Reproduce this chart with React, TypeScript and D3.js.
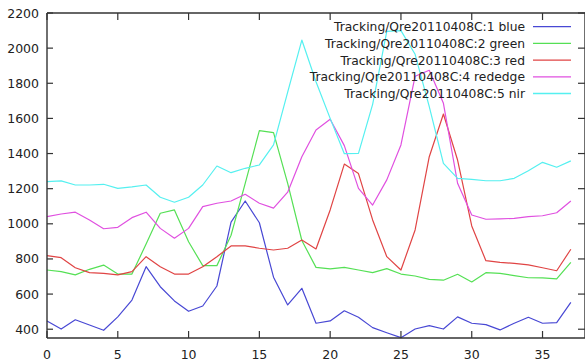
import * as d3 from "d3";

const W = 585;
const H = 363;

// sample index along x
const frames = d3.range(38);

const blue = [447, 401, 454, 424, 394, 470, 566, 756, 642, 561, 502, 532, 646, 1010, 1130, 1006, 696, 538, 633, 434, 447, 505, 468, 409, 380, 352, 401, 420, 401, 470, 434, 426, 396, 434, 468, 434, 437, 553];
const green = [737, 728, 709, 741, 765, 714, 714, 885, 1060, 1079, 898, 762, 762, 935, 1230, 1530, 1519, 1230, 905, 752, 743, 752, 737, 722, 745, 714, 703, 684, 679, 713, 669, 722, 718, 705, 693, 692, 686, 781];
const red = [819, 807, 750, 722, 718, 709, 728, 813, 756, 714, 714, 756, 813, 874, 874, 861, 851, 861, 908, 857, 1079, 1340, 1286, 1022, 813, 737, 965, 1382, 1625, 1363, 988, 790, 780, 775, 766, 750, 733, 855];
const rededge = [1041, 1056, 1066, 1022, 972, 980, 1035, 1066, 974, 918, 974, 1098, 1117, 1130, 1168, 1117, 1089, 1180, 1382, 1534, 1595, 1445, 1202, 1107, 1250, 1449, 1840, 1874, 1686, 1231, 1050, 1026, 1028, 1031, 1041, 1046, 1063, 1130];
const nir = [1240, 1244, 1221, 1221, 1225, 1202, 1210, 1221, 1151, 1123, 1151, 1221, 1329, 1291, 1316, 1335, 1449, 1750, 2046, 1809, 1600, 1399, 1401, 1680, 2095, 2100, 1965, 1667, 1344, 1259, 1253, 1245, 1245, 1259, 1302, 1350, 1322, 1358];

const labels = [
  "Tracking/Qre20110408C:1 blue",
  "Tracking/Qre20110408C:2 green",
  "Tracking/Qre20110408C:3 red",
  "Tracking/Qre20110408C:4 rededge",
  "Tracking/Qre20110408C:5 nir",
];
const colors = ["#4848d4", "#55e055", "#e04444", "#e050e0", "#55f0f0"];
const series = [blue, green, red, rededge, nir];

const xTicks = [0, 5, 10, 15, 20, 25, 30, 35];
const yTicks = [400, 600, 800, 1000, 1200, 1400, 1600, 1800, 2000, 2200];

const left = 47;
const right = 585;
const top = 13;
const bottom = 338;

export default function App() {
  const x = d3.scaleLinear().domain([0, 38]).range([left, right]);
  const y = d3.scaleLinear().domain([350, 2200]).range([bottom, top]);

  const line = d3
    .line<number>()
    .x((_, i) => x(frames[i]))
    .y((d) => y(d));

  const axisColor = "#333";
  const font = "DejaVu Sans, sans-serif";

  return (
    <div style={{ position: "fixed", left: 0, top: 0 }}>
      <svg width={W} height={H} style={{ display: "block", background: "#fff" }}>
        {/* series */}
        <g fill="none" strokeWidth={1.2} strokeLinejoin="round">
          {series.map((s, k) => (
            <path key={k} d={line(s) || ""} stroke={colors[k]} />
          ))}
        </g>

        {/* frame */}
        <g stroke={axisColor} strokeWidth={1.4} fill="none">
          <line x1={left} x2={left} y1={top} y2={bottom} />
          <line x1={left} x2={right} y1={bottom} y2={bottom} />
          <line x1={left} x2={right} y1={top} y2={top} />
          <line x1={right} x2={right} y1={top} y2={bottom} />
        </g>

        {/* y ticks */}
        {yTicks.map((t) => (
          <g key={t}>
            <line x1={left} x2={left + 6} y1={y(t)} y2={y(t)} stroke={axisColor} strokeWidth={1.2} />
            <line x1={right - 7} x2={right} y1={y(t)} y2={y(t)} stroke={axisColor} strokeWidth={1.2} />
            <text
              x={39}
              y={y(t)}
              dy="0.36em"
              textAnchor="end"
              fontFamily={font}
              fontSize={12.5}
              fill="#222"
            >
              {t}
            </text>
          </g>
        ))}

        {/* x ticks */}
        {xTicks.map((t) => (
          <g key={t}>
            <line x1={x(t)} x2={x(t)} y1={bottom} y2={bottom - 7} stroke={axisColor} strokeWidth={1.2} />
            <line x1={x(t)} x2={x(t)} y1={top} y2={top + 7} stroke={axisColor} strokeWidth={1.2} />
            <text
              x={x(t)}
              y={359}
              textAnchor="middle"
              fontFamily={font}
              fontSize={12.5}
              fill="#222"
            >
              {t}
            </text>
          </g>
        ))}

        {/* legend */}
        {labels.map((l, k) => {
          const ly = 26.7 + k * 16.7;
          return (
            <g key={l}>
              <text
                x={525}
                y={ly}
                dy="0.36em"
                textAnchor="end"
                fontFamily={font}
                fontSize={12.3}
                fill="#222"
              >
                {l}
              </text>
              <line x1={533} x2={571} y1={ly} y2={ly} stroke={colors[k]} strokeWidth={1.3} />
            </g>
          );
        })}
      </svg>
    </div>
  );
}
